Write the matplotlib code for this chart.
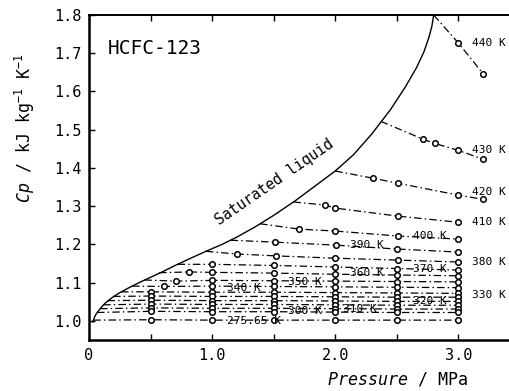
import numpy as np
import matplotlib.pyplot as plt

plt.rcParams['font.family'] = 'DejaVu Sans Mono'
plt.rcParams['mathtext.fontset'] = 'custom'
plt.rcParams['mathtext.rm'] = 'DejaVu Sans Mono'
plt.rcParams['mathtext.it'] = 'DejaVu Sans Mono:italic'

# saturated liquid curve
sat_curve_p = [0.03, 0.045, 0.06, 0.09, 0.13, 0.18, 0.24, 0.32, 0.40, 0.50, 0.60, 0.70, 0.82, 0.95,
               1.08, 1.20, 1.35, 1.50, 1.675, 1.85, 2.00, 2.15, 2.30, 2.45, 2.57, 2.66, 2.72,
               2.76, 2.785, 2.80]
sat_curve_cp = [0.997, 1.010, 1.019, 1.032, 1.046, 1.059, 1.072, 1.086, 1.099, 1.114, 1.129, 1.145, 1.163, 1.182,
                1.200, 1.219, 1.246, 1.276, 1.314, 1.356, 1.392, 1.435, 1.490, 1.553, 1.612, 1.662, 1.703,
                1.740, 1.770, 1.800]

# isotherms: where each one leaves the saturation curve
iso_temps = ['440', '430', '420', '410', '400', '390', '380', '370', '360',
             '350', '340', '330', '320', '310', '300', '290', '280', '275.65']
sat_p = [2.80, 2.37, 2.00, 1.66, 1.39, 1.15, 0.95, 0.72, 0.57,
         0.45, 0.35, 0.26, 0.195, 0.15, 0.115, 0.09, 0.065, 0.035]
sat_cp = [1.800, 1.522, 1.392, 1.311, 1.254, 1.211, 1.182, 1.148, 1.126,
          1.107, 1.091, 1.076, 1.064, 1.053, 1.042, 1.032, 1.022, 1.002]

# measured points on each isotherm
p_440 = [3.0, 3.2]
cp_440 = [1.727, 1.647]
p_430 = [2.715, 2.81, 3.0, 3.2]
cp_430 = [1.475, 1.464, 1.446, 1.423]
p_420 = [2.31, 2.51, 3.0, 3.2]
cp_420 = [1.373, 1.360, 1.329, 1.318]
p_410 = [1.92, 2.0, 2.51, 3.0]
cp_410 = [1.303, 1.295, 1.274, 1.258]
p_400 = [1.71, 2.0, 2.51, 3.0]
cp_400 = [1.240, 1.235, 1.222, 1.214]
p_390 = [1.51, 2.01, 2.5, 3.0]
cp_390 = [1.206, 1.198, 1.188, 1.180]
p_380 = [1.2, 1.52, 2.0, 2.51, 3.0]
cp_380 = [1.175, 1.170, 1.164, 1.159, 1.154]
p_370 = [1.0, 1.5, 2.0, 2.5, 3.0]
cp_370 = [1.148, 1.145, 1.141, 1.137, 1.133]
p_360 = [0.81, 1.0, 1.5, 2.0, 2.5, 3.0]
cp_360 = [1.128, 1.127, 1.125, 1.122, 1.120, 1.118]
p_350 = [0.71, 1.0, 1.5, 2.0, 2.5, 3.0]
cp_350 = [1.104, 1.106, 1.105, 1.104, 1.103, 1.102]
p_340 = [0.61, 1.0, 1.5, 2.0, 2.5, 3.0]
cp_340 = [1.090, 1.091, 1.090, 1.089, 1.088, 1.087]
p_col = [0.5, 1.0, 1.5, 2.0, 2.5, 3.0]
cp_330 = [1.076, 1.075, 1.075, 1.074, 1.073, 1.072]
cp_320 = [1.065, 1.064, 1.064, 1.063, 1.062, 1.062]
cp_310 = [1.054, 1.053, 1.053, 1.052, 1.051, 1.051]
cp_300 = [1.044, 1.043, 1.043, 1.042, 1.041, 1.041]
cp_290 = [1.034, 1.033, 1.033, 1.032, 1.031, 1.031]
cp_280 = [1.025, 1.024, 1.024, 1.023, 1.022, 1.022]
cp_275 = [1.003, 1.002, 1.002, 1.002, 1.002, 1.002]

iso_p = [p_440, p_430, p_420, p_410, p_400, p_390, p_380, p_370, p_360,
         p_350, p_340, p_col, p_col, p_col, p_col, p_col, p_col, p_col]
iso_cp = [cp_440, cp_430, cp_420, cp_410, cp_400, cp_390, cp_380, cp_370, cp_360,
          cp_350, cp_340, cp_330, cp_320, cp_310, cp_300, cp_290, cp_280, cp_275]

# labels written on the chart
label_text = ['440 K', '430 K', '420 K', '410 K', '400 K', '390 K', '380 K', '370 K',
              '360 K', '350 K', '340 K', '330 K', '320 K', '310 K', '300 K', '275.65 K']
label_x = [3.11, 3.11, 3.11, 3.11, 2.63, 2.12, 3.11, 2.63,
           2.12, 1.62, 1.12, 3.11, 2.63, 2.06, 1.62, 1.12]
label_y = [1.726, 1.446, 1.337, 1.258, 1.222, 1.198, 1.154, 1.136,
           1.125, 1.102, 1.086, 1.068, 1.052, 1.031, 1.026, 1.000]

fig = plt.figure(figsize=(5.1, 3.91), dpi=100)
ax = fig.add_axes([0.1745, 0.1304, 0.8255, 0.8312])

ax.plot(sat_curve_p, sat_curve_cp, color='black', lw=1.0)

dashdot = (0, (6, 2.5, 1.2, 2.5))
for i in range(len(iso_temps)):
    xs = [sat_p[i]] + iso_p[i]
    ys = [sat_cp[i]] + iso_cp[i]
    ax.plot(xs, ys, color='black', lw=0.9, linestyle=dashdot)
    ax.plot(iso_p[i], iso_cp[i], linestyle='none', marker='o', ms=4,
            mfc='white', mec='black', mew=1.1)

for txt, x, y in zip(label_text, label_x, label_y):
    ax.text(x, y, txt, fontsize=8, ha='left', va='center', clip_on=False)

ax.text(1.51, 1.363, 'Saturated liquid', fontsize=10.5, rotation=34.5,
        ha='center', va='center', rotation_mode='anchor')
ax.text(0.155, 1.713, 'HCFC-123', fontsize=14, ha='left', va='center')

ax.set_xlim(0, 3.42)
ax.set_ylim(0.95, 1.8)
ax.set_xticks([0, 0.5, 1.0, 1.5, 2.0, 2.5, 3.0])
ax.set_xticklabels(['0', '', '1.0', '', '2.0', '', '3.0'])
ax.set_yticks([1.0, 1.1, 1.2, 1.3, 1.4, 1.5, 1.6, 1.7, 1.8])
ax.set_yticklabels(['1.0', '1.1', '1.2', '1.3', '1.4', '1.5', '1.6', '1.7', '1.8'])
ax.tick_params(direction='in', top=True, length=4, width=1.0, labelsize=11)
ax.tick_params(axis='x', pad=6)
ax.tick_params(axis='y', pad=5)

ax.spines['right'].set_visible(False)
ax.spines['left'].set_linewidth(1.8)
ax.spines['bottom'].set_linewidth(1.8)
ax.spines['top'].set_linewidth(1.4)

fig.text(397 / 510, 1 - 380 / 391, r'$Pressure$ / MPa', fontsize=12, ha='center', va='center')
fig.text(25 / 510, 1 - 128 / 391, r'$Cp$ / kJ kg$^{-1}$ K$^{-1}$', fontsize=12,
         rotation=90, ha='center', va='center')

fig.savefig('out.png', dpi=100)
